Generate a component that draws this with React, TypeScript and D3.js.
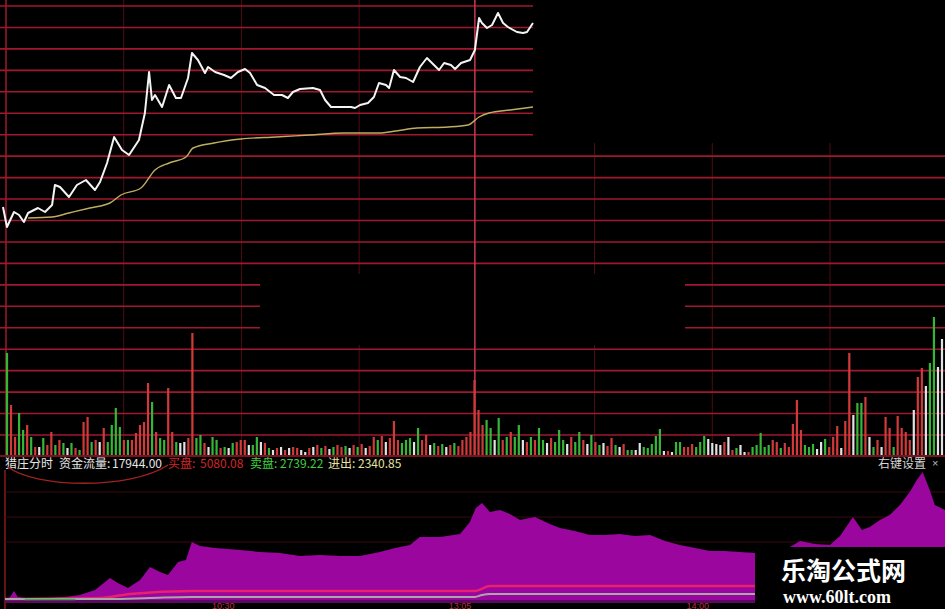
import React from "react";
import * as d3 from "d3";

const W = 945;
const H = 609;

// ---- price panel (minute index, price) ----
const priceT = [0, 1.8, 5, 7.3, 9.5, 11.4, 14.1, 15.9, 19.1, 22.3, 23.6, 25.9, 30, 33.6, 37.7, 41.8, 44.1, 47.3, 50.5, 54.1, 57.3, 61.8, 64.5, 66.4, 67.7, 69.1, 72.3, 75.5, 78.6, 80.9, 84.1, 85.9, 88.6, 91.8, 93.2, 96.4, 100.5, 103.6, 106.8, 110, 112.3, 115.5, 119.1, 123.2, 126.8, 129.5, 131.8, 135, 140.9, 144.1, 146.4, 149.1, 155, 158.2, 160, 162.3, 165.9, 168.6, 170.9, 174.1, 175.5, 177.7, 180.5, 183.2, 186.4, 189.5, 192.7, 195.9, 198.2, 200.5, 203.6, 205.5, 208.2, 212.3, 214.5, 216.4, 217.7, 220, 222.3, 225, 227.3, 229.5, 233.6, 236.4, 238.2, 240.9];
const priceV = [10.115, 10.015, 10.09, 10.075, 10.04, 10.085, 10.1, 10.11, 10.09, 10.125, 10.225, 10.215, 10.165, 10.225, 10.25, 10.2, 10.24, 10.335, 10.465, 10.4, 10.375, 10.45, 10.585, 10.79, 10.65, 10.675, 10.615, 10.725, 10.66, 10.66, 10.76, 10.885, 10.85, 10.785, 10.815, 10.79, 10.775, 10.76, 10.79, 10.805, 10.785, 10.725, 10.71, 10.675, 10.675, 10.66, 10.69, 10.705, 10.71, 10.7, 10.65, 10.615, 10.615, 10.615, 10.61, 10.625, 10.635, 10.665, 10.735, 10.725, 10.71, 10.8, 10.765, 10.76, 10.74, 10.815, 10.86, 10.825, 10.8, 10.835, 10.825, 10.805, 10.835, 10.85, 10.9, 11.06, 11.035, 11.01, 11.025, 11.085, 11.035, 11.015, 10.99, 10.985, 10.99, 11.035];
const avgT = [11.4, 22.3, 30, 39.5, 48.6, 53.6, 62.7, 69.1, 75.5, 83.2, 86.4, 95.9, 108.2, 124.1, 139.5, 155, 170.9, 178.6, 188.2, 202.3, 211.4, 216.4, 220.9, 230.5, 240.9];
const avgV = [10.06, 10.065, 10.085, 10.11, 10.135, 10.175, 10.21, 10.3, 10.335, 10.365, 10.41, 10.435, 10.455, 10.465, 10.475, 10.485, 10.485, 10.495, 10.51, 10.515, 10.525, 10.565, 10.585, 10.6, 10.615];

// ---- volume bars ----
const volumes = [
  102, 50, 18, 42, 25, 30, 18, 8, 8, 17, 10, 23, 10, 15, 12, 7, 12, 7, 5, 33,
  38, 13, 15, 13, 27, 13, 30, 47, 28, 15, 15, 15, 22, 30, 33, 72, 53, 23, 17, 15,
  67, 23, 13, 12, 13, 17, 122, 17, 20, 12, 8, 18, 15, 7, 8, 7, 12, 13, 15, 15,
  10, 10, 18, 13, 12, 7, 5, 7, 8, 5, 7, 8, 7, 5, 3, 7, 8, 10, 7, 9,
  6, 8, 10, 8, 9, 7, 10, 8, 11, 7, 9, 18, 15, 19, 13, 17, 34, 15, 12, 15,
  17, 13, 27, 15, 20, 10, 12, 9, 11, 8, 10, 12, 9, 15, 18, 23, 75, 45, 30, 35,
  27, 15, 37, 15, 18, 23, 18, 30, 15, 13, 18, 15, 27, 15, 12, 17, 13, 25, 15, 11,
  18, 13, 23, 15, 11, 20, 13, 10, 12, 9, 17, 10, 8, 11, 5, 5, 5, 12, 8, 7,
  11, 19, 26, 4, 4, 3, 13, 13, 8, 8, 11, 8, 13, 19, 16, 12, 11, 10, 13, 18,
  5, 7, 10, 3, 3, 8, 10, 22, 8, 10, 15, 13, 7, 12, 8, 31, 55, 25, 10, 8,
  11, 6, 13, 16, 8, 18, 29, 7, 34, 102, 40, 52, 52, 58, 18, 8, 15, 8, 38, 27,
  8, 39, 27, 23, 15, 45, 78, 87, 69, 92, 138, 88, 116,
];
const volumeKinds =
  "grrggrgrwgrrgrgwgrgr" +
  "rgrwrggggrgrrrrrgrgg" +
  "rrgwwrrggrwggrgwgrrr" +
  "wggwrgwrwrwrrwwrwrgr" +
  "wgrrgwrgrwrrgrwrrrgg" +
  "gwgrrwgrgwrgrrrrrrrg" +
  "gwgrgrggwrgrggwrgggw" +
  "rggrwgrgwrrgwrggwwgg" +
  "gggwrwggrrrgggwwwwrw" +
  "rgwwrgggggrrgrrrrrgg" +
  "gwwgrrrwrrwggrwgrwrr" +
  "grrrrwrrwggww";

// ---- money flow panel (minute index, value) ----
const flowT = [0, 1.3, 2.3, 3.3, 6.4, 11.5, 15.3, 19.1, 23, 26.8, 28.8, 31.4, 34.5, 37, 39.6, 41.6, 44.2, 46.2, 47.7, 49.8, 53.6, 60, 65.1, 70.2, 75.3, 80.4, 85.5, 90.6, 95.7, 99.6, 103.4, 105.9, 111.1, 116.2, 118.7, 120.2, 121.8, 123.8, 126.4, 128.9, 131.5, 135.3, 139.1, 141.7, 145.5, 149.3, 153.2, 157, 160.8, 164.7, 168.5, 172.3, 176.2, 180, 183.8, 187.6, 191.5, 195.3, 199.1, 203, 206.8, 210.6, 213.2, 216.5, 218.8, 220.8, 223.4, 225.9, 228.5, 231, 232.8, 234.3, 236.1, 237.4, 240];
const flowV = [200, 500, 1100, 500, 300, 400, 500, 700, 1200, 2400, 1900, 1400, 2200, 3500, 3000, 2700, 4000, 4200, 6000, 5600, 5400, 5200, 5000, 4900, 4600, 4700, 4600, 4600, 5000, 5400, 5700, 6500, 6500, 6800, 8000, 9400, 9900, 9000, 9200, 8800, 8200, 8500, 7800, 7400, 7100, 6700, 6700, 6800, 6600, 6700, 6100, 5700, 5400, 5100, 5100, 5000, 4900, 5000, 5200, 6100, 5800, 5700, 6600, 8500, 7200, 7500, 8200, 8700, 9700, 11000, 12200, 13000, 11200, 9700, 9200];
const buyT = [0, 24.3, 31.9, 48, 120, 123.8, 240];
const buyV = [300, 400, 800, 1100, 1100, 1600, 1600];
const sellT = [0, 26.8, 37, 47.7, 120, 121.8, 123.8, 240];
const sellV = [300, 300, 400, 500, 500, 700, 800, 800];
const greenT = [5, 18];
const greenV = [250, 250];

const timeTicks = ["10:30", "13:05", "14:00"];
const timeTickT = [55.7, 116.2, 176.9];

const legendParts = [
  { text: "猎庄分时", color: "#e6e6e6", x: 5 },
  { text: "资金流量:", color: "#e6e6e6", x: 59 },
  { text: "17944.00", color: "#e6e6e6", x: 112 },
  { text: "买盘:", color: "#d42525", x: 168 },
  { text: "5080.08", color: "#d42525", x: 200 },
  { text: "卖盘:", color: "#3fd03f", x: 250 },
  { text: "2739.22", color: "#3fd03f", x: 280 },
  { text: "进出:", color: "#e8e0a0", x: 328 },
  { text: "2340.85", color: "#e8e0a0", x: 358 },
];

const kindColor: Record<string, string> = { r: "#d23a3a", g: "#36b636", w: "#e2e2e2" };

export default function App() {
  const xPrice = d3.scaleLinear().domain([0, 240]).range([3, 531]);
  const yPrice = d3.scaleLinear().domain([10, 11.1]).range([230, 10]);
  const xVol = d3.scaleLinear().domain([0, volumes.length - 1]).range([7, 942]);
  const yVol = d3.scaleLinear().domain([0, 140]).range([455, 315]);
  const xFlow = d3.scaleLinear().domain([0, 240]).range([5, 945]);
  const yFlow = d3.scaleLinear().domain([0, 13000]).range([602, 472]);
  const yGrid = d3.scaleLinear().domain([0, 20]).range([6, 435]);
  const xGrid = d3.scaleLinear().domain([0, 7]).range([6, 830]);

  const priceLine = d3
    .line<number>()
    .x((_, i) => xPrice(priceT[i]))
    .y((d) => yPrice(d))
    .curve(d3.curveLinear);
  const avgLine = d3
    .line<number>()
    .x((_, i) => xPrice(avgT[i]))
    .y((d) => yPrice(d))
    .curve(d3.curveMonotoneX);
  const flowArea = d3
    .area<number>()
    .x((_, i) => xFlow(flowT[i]))
    .y0(603)
    .y1((d) => yFlow(d));
  const mkLine = (ts: number[]) =>
    d3
      .line<number>()
      .x((_, i) => xFlow(ts[i]))
      .y((d) => yFlow(d))
      .curve(d3.curveMonotoneX);

  const rows = d3.range(21);
  const cols = d3.range(8);
  const flowGrid = [6000, 8500, 11000];

  return (
    <div style={{ position: "absolute", left: 0, top: 0, width: W, height: H, background: "#000" }}>
      <svg width={W} height={H} style={{ display: "block", background: "#000" }}>
        <rect x={0} y={0} width={W} height={H} fill="#000" />
        {/* grid */}
        {cols.map((c) =>
          c === 4 ? null : (
            <line key={"c" + c} x1={xGrid(c)} x2={xGrid(c)} y1={0} y2={455} stroke={c === 0 ? "#9c1830" : "#4e0c16"} strokeWidth={c === 0 ? 1.5 : 1} />
          )
        )}
        {rows.map((r) => (
          <line key={"r" + r} x1={0} x2={W} y1={yGrid(r)} y2={yGrid(r)} stroke="#a0182e" strokeWidth={1.6} />
        ))}
        {/* masked regions of the collage */}
        <rect x={533} y={0} width={W - 533} height={143} fill="#000" />
        <rect x={260} y={274} width={425} height={71} fill="#000" />
        <line x1={xGrid(4) - 2} x2={xGrid(4) - 2} y1={0} y2={455} stroke="#c83a52" strokeWidth={1.5} />

        {/* price lines */}
        <path d={avgLine(avgV) || ""} fill="none" stroke="#bfae62" strokeWidth={1.4} />
        <path d={priceLine(priceV) || ""} fill="none" stroke="#f4f4f4" strokeWidth={2} strokeLinejoin="round" />

        {/* volume */}
        {volumes.map((v, i) => (
          <rect
            key={"v" + i}
            x={xVol(i) - 1.1}
            y={yVol(v)}
            width={2.2}
            height={yVol(0) - yVol(v)}
            fill={kindColor[volumeKinds[i]] || "#d23a3a"}
          />
        ))}
        <line x1={0} x2={W} y1={456} y2={456} stroke="#a0182e" strokeWidth={1.5} />

        {/* legend */}
        {legendParts.map((p) => (
          <text key={p.text} x={p.x} y={468} fill={p.color} fontSize={12} fontFamily="'Noto Sans CJK SC', 'Liberation Sans', sans-serif">
            {p.text}
          </text>
        ))}
        <text x={878} y={468} fill="#d6d6d6" fontSize={12} fontFamily="'Noto Sans CJK SC', sans-serif">
          右键设置
        </text>
        <text x={932} y={467} fill="#bbbbbb" fontSize={11} fontFamily="'Liberation Sans', sans-serif">
          ×
        </text>
        <path d="M 8 467 C 35 488, 130 490, 168 465" fill="none" stroke="#a02222" strokeWidth={1.4} />

        {/* flow panel */}
        <line x1={5} x2={5} y1={470} y2={H} stroke="#8a1a1a" strokeWidth={1.5} />
        {flowGrid.map((g) => (
          <line key={"fg" + g} x1={5} x2={W} y1={yFlow(g)} y2={yFlow(g)} stroke="#3a0a0e" strokeWidth={1} />
        ))}
        <path d={flowArea(flowV) || ""} fill="#9a069e" />
        <rect x={5} y={600} width={W - 5} height={3} fill="#5a0a62" />
        <path d={mkLine(buyT)(buyV) || ""} fill="none" stroke="#e8226e" strokeWidth={2.5} />
        <path d={mkLine(sellT)(sellV) || ""} fill="none" stroke="#a8a8a8" strokeWidth={2} />
        <path d={mkLine(greenT)(greenV) || ""} fill="none" stroke="#4aa84a" strokeWidth={1.5} />
        {timeTicks.map((t, i) => (
          <text key={t} x={xFlow(timeTickT[i])} y={608.5} fill="#b83434" fontSize={9} textAnchor="middle" fontFamily="'Liberation Sans', sans-serif">
            {t}
          </text>
        ))}

        {/* watermark */}
        <rect x={755} y={547} width={W - 755} height={H - 547} fill="#000" />
        <text x={781} y={580} fill="#ffffff" fontSize={25} fontWeight="bold" fontFamily="'Noto Sans CJK SC', sans-serif">
          乐淘公式网
        </text>
        <text x={783} y={603} fill="#ffffff" fontSize={18} fontWeight="bold" fontFamily="'Liberation Serif', serif">
          www.60lt.com
        </text>
      </svg>
    </div>
  );
}
